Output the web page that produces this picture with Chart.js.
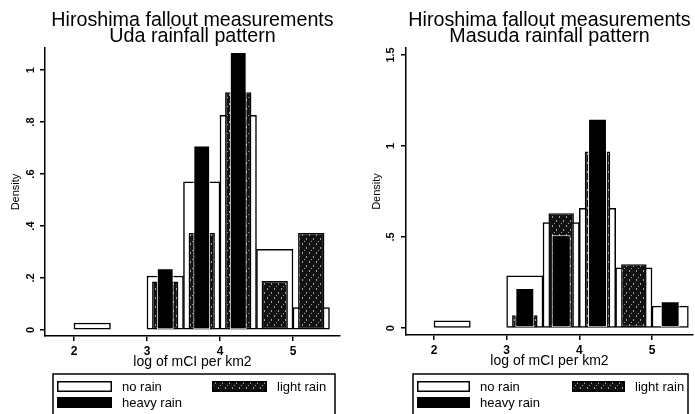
<!DOCTYPE html>
<html><head><meta charset="utf-8">
<script src="https://cdn.jsdelivr.net/npm/chart.js@4/dist/chart.umd.min.js"></script>
<style>
html,body{margin:0;padding:0;background:#fff;overflow:hidden}
#wrap{position:relative;width:695px;height:414px;background:#fff}
#c1{position:absolute;left:0;top:0}
#c2{position:absolute;left:348px;top:0}
</style></head>
<body><div id="wrap"><canvas id="c1" width="348" height="414"></canvas><canvas id="c2" width="347" height="414"></canvas></div>
<script>
// ---- data ----
const binCenters = [2.25, 3.25, 3.75, 4.25, 4.75, 5.25];
const seriesNames = ['no rain', 'light rain', 'heavy rain'];
const xTickValues = [2, 3, 4, 5];
const xTickLabels = ['2', '3', '4', '5'];

const udaTitle = ['Hiroshima fallout measurements', 'Uda rainfall pattern'];
const udaNoRain    = [0.027, 0.208, 0.57, 0.826, 0.31, 0.086];
const udaLightRain = [null, 0.187, 0.373, 0.915, 0.189, 0.373];
const udaHeavyRain = [null, 0.238, 0.71, 1.07, null, null];
const udaYTickValues = [0, 0.2, 0.4, 0.6, 0.8, 1];
const udaYTickLabels = ['0', '.2', '.4', '.6', '.8', '1'];

const masudaTitle = ['Hiroshima fallout measurements', 'Masuda rainfall pattern'];
const masudaNoRain    = [0.04, 0.287, 0.579, 0.658, 0.331, 0.121];
const masudaLightRain = [null, 0.071, 0.63, 0.97, 0.35, null];
const masudaHeavyRain = [null, 0.22, 0.51, 1.15, null, 0.148];
const masudaYTickValues = [0, 0.5, 1, 1.5];
const masudaYTickLabels = ['0', '.5', '1', '1.5'];

const xTitle = 'log of mCI per km2';
const yTitle = 'Density';

// ---- styles ----
const FONT = "'Liberation Sans', Arial, Helvetica, sans-serif";
function makeStipple() {
  const c = document.createElement('canvas'); c.width = 7; c.height = 9;
  const g = c.getContext('2d');
  g.fillStyle = '#111111'; g.fillRect(0, 0, 7, 9);
  g.fillStyle = '#a0a0a0';
  g.fillRect(1, 0, 1, 2); g.fillRect(5, 4, 1, 2); g.fillRect(3, 7, 1, 1);
  return g.createPattern(c, 'repeat');
}
const stipple = makeStipple();

const stataLegend = {
  id: 'stataLegend',
  afterDraw(chart, args, o) {
    const ctx = chart.ctx, a = chart.chartArea;
    const L = a.left + o.insetLeft, R = a.right - o.insetRight, T = o.top;
    ctx.save();
    ctx.strokeStyle = '#000'; ctx.lineWidth = 1.5;
    ctx.strokeRect(L, T, R - L, chart.height - T + 10);
    const ds = chart.data.datasets;
    const slots = [[L + 4, T + 12.5], [L + o.col2, T + 12.5], [L + 4, T + 28.5]];
    ds.forEach((d, i) => {
      const [x, y] = slots[i];
      const w = o.swatchW, h = 11;
      ctx.fillStyle = '#000'; ctx.fillRect(x, y - h / 2, w, h);
      ctx.fillStyle = d.backgroundColor; ctx.fillRect(x + 1.5, y - h / 2 + 1.5, w - 3, h - 3);
      ctx.fillStyle = '#000';
      ctx.font = '13px ' + FONT;
      ctx.textBaseline = 'middle'; ctx.textAlign = 'left';
      ctx.fillText(d.label, x + w + 10, y + 0.5);
    });
    ctx.restore();
  }
};

function makeChart(id, spec) {
  const pts = arr => binCenters.map((x, i) => ({x, y: arr[i]})).filter(p => p.y !== null);
  const cfg = {
    type: 'bar',
    data: {
      datasets: [
        {label: seriesNames[0], data: pts(spec.noRain), backgroundColor: '#ffffff', borderColor: '#000000',
         borderWidth: 1.5, borderSkipped: false, barPercentage: 1.0, categoryPercentage: 1.0, order: 3, grouped: false},
        {label: seriesNames[1], data: pts(spec.light), backgroundColor: stipple, borderColor: '#000000',
         borderWidth: 1.5, borderSkipped: false, barPercentage: spec.lightPct, categoryPercentage: 1.0, order: 2, grouped: false},
        {label: seriesNames[2], data: pts(spec.heavy), backgroundColor: '#000000', borderColor: '#ffffff',
         borderWidth: 1, borderSkipped: false, barPercentage: spec.heavyPct, categoryPercentage: 1.0, order: 1, grouped: false}
      ]
    },
    options: {
      responsive: false, animation: false, devicePixelRatio: 1,
      layout: {padding: {left: 0, right: spec.padRight, top: 0, bottom: spec.padBottom}},
      plugins: {
        legend: {display: false}, tooltip: {enabled: false},
        title: {display: true, text: spec.title, fullSize: false, color: '#000',
          font: {family: FONT, size: 19.7, weight: 'normal', lineHeight: 16 / 19.7},
          padding: {top: 12.7, bottom: 3.3}},
        stataLegend: spec.legend
      },
      scales: {
        x: {
          type: 'linear', min: spec.xMin, max: spec.xMax, offset: false,
          afterBuildTicks: s => { s.ticks = xTickValues.map(v => ({value: v})); },
          afterFit: s => { s.height = 36; },
          ticks: {callback: v => xTickLabels[xTickValues.indexOf(v)], color: '#000', autoSkip: false,
            maxRotation: 0, minRotation: 0, padding: 3, font: {family: FONT, size: 12, weight: 'bold'}},
          grid: {display: true, drawOnChartArea: false, drawTicks: true, tickLength: 5, color: '#000', lineWidth: 1.5, offset: false},
          border: {display: true, color: '#000', width: 1.5},
          title: {display: true, text: xTitle, color: '#000', font: {family: FONT, size: 14, lineHeight: 1.2},
            padding: {top: 0, bottom: 1.8}}
        },
        y: {
          type: 'linear', min: spec.yMin, max: spec.yMax,
          afterBuildTicks: s => { s.ticks = spec.yTickValues.map(v => ({value: v})); },
          afterFit: s => { s.width = spec.yWidth; },
          ticks: {callback: v => spec.yTickLabels[spec.yTickValues.indexOf(v)], color: '#000', autoSkip: false,
            minRotation: 90, maxRotation: 90, crossAlign: 'center', padding: spec.yTickPad,
            font: {family: FONT, size: 11, weight: 'bold'}},
          grid: {display: true, drawOnChartArea: false, drawTicks: true, tickLength: 5, color: '#000', lineWidth: 1.5},
          border: {display: true, color: '#000', width: 1.5},
          title: {display: true, text: yTitle, color: '#000', font: {family: FONT, size: 11, lineHeight: 1.2},
            padding: {top: spec.yTitlePad, bottom: 0}}
        }
      }
    },
    plugins: [stataLegend]
  };
  return new Chart(document.getElementById(id), cfg);
}

makeChart('c1', {
  title: udaTitle, noRain: udaNoRain, light: udaLightRain, heavy: udaHeavyRain,
  yTickValues: udaYTickValues, yTickLabels: udaYTickLabels,
  xMin: 1.603, xMax: 5.644, yMin: -0.023, yMax: 1.085,
  yWidth: 45, padRight: 8, padBottom: 42, yTickPad: 4, yTitlePad: 9.4,
  lightPct: 0.72, heavyPct: 0.46,
  legend: {insetLeft: 8, insetRight: 5, top: 374, col2: 159, swatchW: 55}
});
makeChart('c2', {
  title: masudaTitle, noRain: masudaNoRain, light: masudaLightRain, heavy: masudaHeavyRain,
  yTickValues: masudaYTickValues, yTickLabels: masudaYTickLabels,
  xMin: 1.615, xMax: 5.564, yMin: -0.038, yMax: 1.538,
  yWidth: 58, padRight: 2, padBottom: 43, yTickPad: 2, yTitlePad: 22.4,
  lightPct: 0.70, heavyPct: 0.52,
  legend: {insetLeft: 7, insetRight: 5, top: 374, col2: 159, swatchW: 53}
});
</script>
</body></html>
